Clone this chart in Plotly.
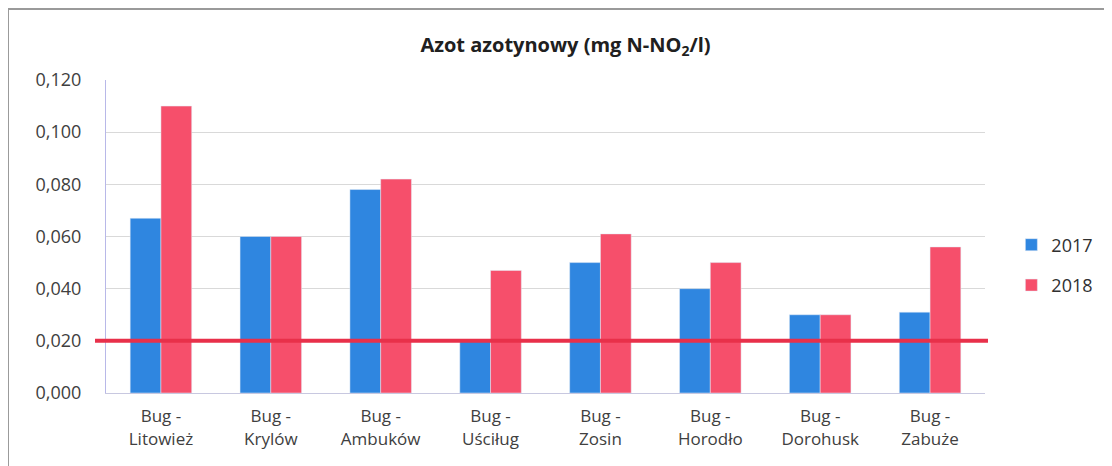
import plotly.graph_objects as go

categories = ["Bug -<br>Litowież", "Bug -<br>Krylów", "Bug -<br>Ambuków", "Bug -<br>Uściług",
              "Bug -<br>Zosin", "Bug -<br>Horodło", "Bug -<br>Dorohusk", "Bug -<br>Zabuże"]
values_2017 = [0.067, 0.060, 0.078, 0.020, 0.050, 0.040, 0.030, 0.031]
values_2018 = [0.110, 0.060, 0.082, 0.047, 0.061, 0.050, 0.030, 0.056]
limit_value = 0.020
y_ticks = [0.0, 0.02, 0.04, 0.06, 0.08, 0.10, 0.12]

FONT = "Open Sans, Lato, sans-serif"

fig = go.Figure()
fig.add_trace(go.Bar(name="2017", x=categories, y=values_2017, marker_color="#2F86E0",
                     legendgroup="a"))
fig.add_trace(go.Bar(name="2018", x=categories, y=values_2018, marker_color="#F64F6B",
                     legendgroup="b"))

# frame lines (left and top)
fig.add_shape(type="line", xref="paper", yref="paper", x0=-0.1115, x1=-0.1115, y0=-0.3, y1=1.2268,
              line=dict(color="#9A9A9A", width=2))
fig.add_shape(type="line", xref="paper", yref="paper", x0=-0.1115, x1=1.2, y0=1.2268, y1=1.2268,
              line=dict(color="#9A9A9A", width=2))
# limit line
fig.add_shape(type="line", xref="paper", yref="y", x0=-0.0125, x1=1.0034, y0=limit_value, y1=limit_value,
              line=dict(color="#E8304A", width=4))

fig.update_layout(
    width=1104, height=458,
    margin=dict(l=98, r=127, t=72, b=73),
    paper_bgcolor="white", plot_bgcolor="white",
    separators=", ",
    font=dict(family=FONT, size=16, color="#404040"),
    title=dict(text="<b>Azot azotynowy (mg N-NO<sub>2</sub>/l)</b>", x=0.505, xanchor="center",
               y=0.92, yanchor="middle", font=dict(family=FONT, size=20, color="#202020")),
    barmode="group", bargap=0.44, bargroupgap=0,
    legend=dict(x=1.03, xanchor="left", y=0.409, yanchor="middle",
                traceorder="grouped", tracegroupgap=14,
                font=dict(family=FONT, size=18, color="#303030")),
    xaxis=dict(showline=True, linecolor="#C8C8E0", linewidth=1, ticks="",
               ticklabelstandoff=8,
               tickfont=dict(family=FONT, size=17, color="#404040")),
    yaxis=dict(range=[0, 0.12], tickvals=y_ticks, tickformat=".3f",
               showline=True, linecolor="#B8B8E8", linewidth=1,
               showgrid=True, gridcolor="#D9D9D9", gridwidth=1, zeroline=False,
               ticks="", ticklen=0, ticklabelstandoff=20,
               tickfont=dict(family=FONT, size=18, color="#404040")),
)

fig.write_html("out.html")
